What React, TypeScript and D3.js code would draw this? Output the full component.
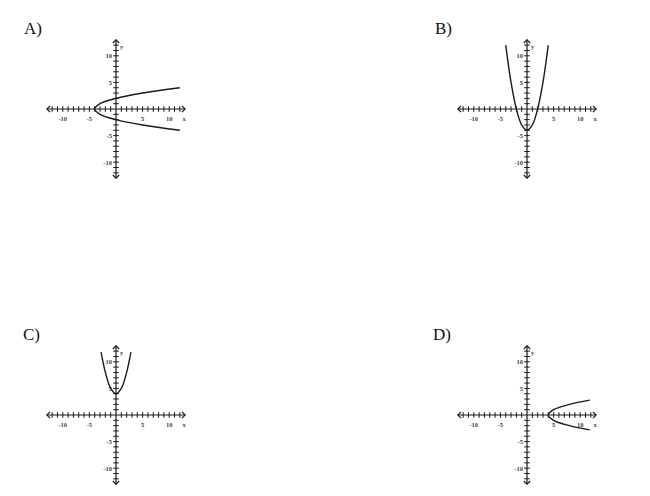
import React from "react";
import * as d3 from "d3";

// answer choices, each with its plotted curve
const panelLabels = ["A)", "B)", "C)", "D)"];

const curveA: [number, number][] = [
  [12, -4], [5, -3], [0, -2], [-3, -1], [-4, 0], [-3, 1], [0, 2], [5, 3], [12, 4],
];
const curveB: [number, number][] = [
  [-4, 12], [-3, 5], [-2, 0], [-1, -3], [0, -4], [1, -3], [2, 0], [3, 5], [4, 12],
];
const curveC: [number, number][] = [
  [-2.8, 11.8], [-2, 8], [-1, 5], [0, 4], [1, 5], [2, 8], [2.8, 11.8],
];
const curveD: [number, number][] = [
  [11.8, -2.8], [8, -2], [5, -1], [4, 0], [5, 1], [8, 2], [11.8, 2.8],
];

const xTickLabels = [-10, -5, 5, 10];
const yTickLabels = [10, 5, -5, -10];
const minorTicks = d3.range(-12, 13).filter((v) => v !== 0);
const axisLimit = 13;

const origins: [number, number][] = [
  [116, 109],
  [527, 109],
  [116, 415],
  [527, 415],
];
const labelPos: [number, number][] = [
  [24, 34],
  [435, 34],
  [23, 340],
  [433, 340],
];
const curves = [curveA, curveB, curveC, curveD];

const unit = 5.32;
const ink = "#1a1a1a";

const Graph: React.FC<{ ox: number; oy: number; data: [number, number][] }> = ({
  ox,
  oy,
  data,
}) => {
  const x = d3
    .scaleLinear()
    .domain([-axisLimit, axisLimit])
    .range([ox - axisLimit * unit, ox + axisLimit * unit]);
  const y = d3
    .scaleLinear()
    .domain([-axisLimit, axisLimit])
    .range([oy + axisLimit * unit, oy - axisLimit * unit]);

  const line = d3
    .line<[number, number]>()
    .x((d) => x(d[0]))
    .y((d) => y(d[1]))
    .curve(d3.curveCatmullRom.alpha(0.5));

  const x0 = x(-axisLimit);
  const x1 = x(axisLimit);
  const y0 = y(axisLimit);
  const y1 = y(-axisLimit);
  const a = 3.2;
  const t = 2.8;

  return (
    <g>
      {/* axes */}
      <line x1={x0} x2={x1} y1={y(0)} y2={y(0)} stroke={ink} strokeWidth={1.2} />
      <line x1={x(0)} x2={x(0)} y1={y0} y2={y1} stroke={ink} strokeWidth={1.2} />
      <path
        d={`M${x0 + a},${y(0) - a}L${x0},${y(0)}L${x0 + a},${y(0) + a}
            M${x1 - a},${y(0) - a}L${x1},${y(0)}L${x1 - a},${y(0) + a}
            M${x(0) - a},${y0 + a}L${x(0)},${y0}L${x(0) + a},${y0 + a}
            M${x(0) - a},${y1 - a}L${x(0)},${y1}L${x(0) + a},${y1 - a}`}
        fill="none"
        stroke={ink}
        strokeWidth={1.2}
      />
      {minorTicks.map((v) => (
        <line
          key={"xt" + v}
          x1={x(v)}
          x2={x(v)}
          y1={y(0) - t}
          y2={y(0) + t}
          stroke={ink}
          strokeWidth={1}
        />
      ))}
      {minorTicks.map((v) => (
        <line
          key={"yt" + v}
          x1={x(0) - t}
          x2={x(0) + t}
          y1={y(v)}
          y2={y(v)}
          stroke={ink}
          strokeWidth={1}
        />
      ))}
      {xTickLabels.map((v) => (
        <text
          key={"xl" + v}
          x={x(v)}
          y={y(0) + 12}
          textAnchor="middle"
          fontSize={6.5}
          fontWeight="bold"
          fill="#444"
        >
          {v}
        </text>
      ))}
      {yTickLabels.map((v) => (
        <text
          key={"yl" + v}
          x={x(0) - 4}
          y={y(v) + 2.3}
          textAnchor="end"
          fontSize={6.5}
          fontWeight="bold"
          fill="#444"
        >
          {v}
        </text>
      ))}
      <text x={x1 - 1} y={y(0) + 12} textAnchor="middle" fontSize={6.5} fontWeight="bold" fill="#444">
        x
      </text>
      <text x={x(0) + 4} y={y0 + 9} fontSize={6.5} fontWeight="bold" fill="#444">
        y
      </text>
      <path d={line(data) ?? ""} fill="none" stroke={ink} strokeWidth={1.4} />
    </g>
  );
};

export default function App() {
  return (
    <svg
      width={650}
      height={496}
      style={{ position: "absolute", left: 0, top: 0, background: "#fff" }}
      fontFamily="'Liberation Serif', 'DejaVu Serif', serif"
    >
      {panelLabels.map((lab, i) => (
        <text key={lab} x={labelPos[i][0]} y={labelPos[i][1]} fontSize={17} fill="#111">
          {lab}
        </text>
      ))}
      {curves.map((c, i) => (
        <Graph key={i} ox={origins[i][0]} oy={origins[i][1]} data={c} />
      ))}
    </svg>
  );
}
